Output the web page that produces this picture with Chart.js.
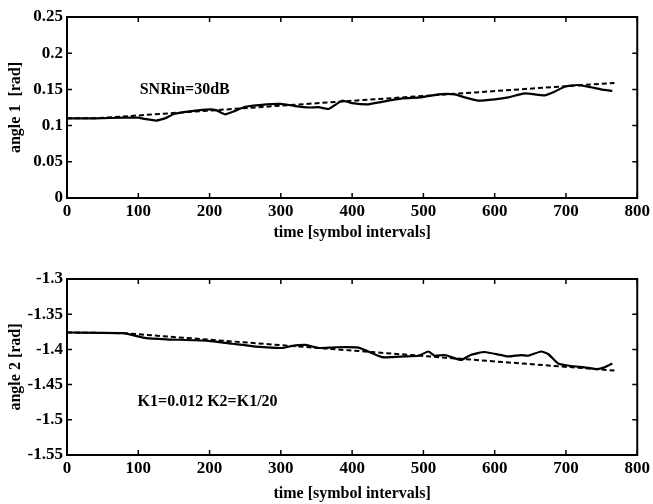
<!DOCTYPE html>
<html>
<head>
    <title>angle tracking</title>
    <script src="https://cdn.jsdelivr.net/npm/chart.js"></script>
    <style>
        body { margin: 0; background: #fff; }
        .plot { position: absolute; left: 0; width: 653px; height: 252px; }
    </style>
</head>
<body>
    <div class="plot" style="top:0"><canvas id="top" width="653" height="252"></canvas></div>
    <div class="plot" style="top:252px"><canvas id="bottom" width="653" height="252"></canvas></div>

    <script>
        // upper plot: angle 1
        const time1 = [0, 40, 80, 100, 110, 125, 140, 150, 175, 200, 210, 222, 235, 250, 280, 300, 320, 340, 353, 367, 386, 400, 423, 437, 470, 497, 521, 544, 558, 577, 600, 619, 642, 670, 684, 698, 716, 735, 749, 765];
        const angle1 = [0.110, 0.110, 0.111, 0.111, 0.109, 0.107, 0.111, 0.116, 0.120, 0.1225, 0.121, 0.1156, 0.120, 0.126, 0.1294, 0.130, 0.127, 0.125, 0.1255, 0.123, 0.1344, 0.131, 0.1294, 0.132, 0.1377, 0.139, 0.1432, 0.1432, 0.139, 0.1344, 0.1363, 0.139, 0.1446, 0.1418, 0.1468, 0.1537, 0.1561, 0.153, 0.150, 0.148];
        const refTime1 = [0, 40, 768];
        const ref1 = [0.110, 0.110, 0.159];
        const yTicks1 = [0, 0.05, 0.1, 0.15, 0.2, 0.25];

        // lower plot: angle 2
        const time2 = [0, 79, 111, 139, 195, 232, 265, 302, 316, 335, 353, 376, 409, 442, 474, 493, 507, 516, 530, 553, 567, 586, 619, 637, 647, 665, 675, 689, 707, 726, 744, 754, 765];
        const angle2 = [-1.376, -1.377, -1.384, -1.3857, -1.3876, -1.392, -1.396, -1.398, -1.395, -1.3937, -1.398, -1.397, -1.3975, -1.411, -1.410, -1.409, -1.403, -1.409, -1.408, -1.415, -1.4075, -1.4037, -1.410, -1.408, -1.409, -1.403, -1.4065, -1.420, -1.4236, -1.4255, -1.428, -1.4255, -1.420];
        const refTime2 = [0, 80, 768];
        const ref2 = [-1.376, -1.377, -1.430];
        const yTicks2 = [-1.55, -1.5, -1.45, -1.4, -1.35, -1.3];

        const xTicks = [0, 100, 200, 300, 400, 500, 600, 700, 800];

        const serif = '"Liberation Serif", "DejaVu Serif", serif';

        const pts = (xs, ys) => xs.map((x, i) => ({ x: x, y: ys[i] }));

        // matlab style box with inward ticks, plus the text note
        const boxPlugin = {
            id: 'box',
            afterDraw(chart, args, opts) {
                const c = chart.ctx, a = chart.chartArea;
                const sx = chart.scales.x, sy = chart.scales.y;
                c.save();
                c.strokeStyle = '#000';
                c.lineWidth = 2;
                c.strokeRect(a.left, a.top, a.right - a.left, a.bottom - a.top);
                c.lineWidth = 1.5;
                c.beginPath();
                xTicks.forEach(v => {
                    const px = sx.getPixelForValue(v);
                    c.moveTo(px, a.bottom); c.lineTo(px, a.bottom - 5);
                    c.moveTo(px, a.top); c.lineTo(px, a.top + 5);
                });
                opts.yTicks.forEach(v => {
                    const py = sy.getPixelForValue(v);
                    c.moveTo(a.left, py); c.lineTo(a.left + 5, py);
                    c.moveTo(a.right, py); c.lineTo(a.right - 5, py);
                });
                c.stroke();
                c.fillStyle = '#000';
                c.font = 'bold 16px ' + serif;
                c.textBaseline = 'middle';
                c.fillText(opts.note, sx.getPixelForValue(opts.noteAt[0]), sy.getPixelForValue(opts.noteAt[1]));
                c.restore();
            }
        };

        function makePlot(id, cfg) {
            const ctx = document.getElementById(id).getContext('2d');
            return new Chart(ctx, {
                type: 'line',
                data: {
                    datasets: [{
                        data: pts(cfg.time, cfg.angle),
                        borderColor: '#000',
                        borderWidth: 2.2,
                        pointRadius: 0,
                        tension: 0.15
                    }, {
                        data: pts(cfg.refTime, cfg.ref),
                        borderColor: '#000',
                        borderWidth: 2,
                        borderDash: [5, 3],
                        pointRadius: 0
                    }]
                },
                options: {
                    responsive: false,
                    animation: false,
                    devicePixelRatio: 1,
                    layout: { padding: { top: cfg.padTop, left: 0, right: 13, bottom: 0 } },
                    plugins: {
                        legend: { display: false },
                        tooltip: { enabled: false },
                        box: { yTicks: cfg.yTicks, note: cfg.note, noteAt: cfg.noteAt }
                    },
                    scales: {
                        x: {
                            type: 'linear',
                            min: 0, max: 800,
                            afterBuildTicks: s => { s.ticks = xTicks.map(v => ({ value: v })); },
                            afterFit: s => { s.height = cfg.xHeight; },
                            grid: { display: false, drawTicks: false },
                            border: { display: false },
                            ticks: {
                                padding: 3,
                                color: '#000',
                                maxRotation: 0,
                                font: { family: serif, size: 17, weight: 'bold' }
                            },
                            title: {
                                display: true,
                                text: 'time [symbol intervals]',
                                color: '#000',
                                padding: { top: 0, bottom: cfg.titlePad },
                                font: { family: serif, size: 16, weight: 'bold' }
                            }
                        },
                        y: {
                            min: cfg.yTicks[0],
                            max: cfg.yTicks[cfg.yTicks.length - 1],
                            afterBuildTicks: s => { s.ticks = cfg.yTicks.map(v => ({ value: v })); },
                            afterFit: s => { s.width = 67; },
                            grid: { display: false, drawTicks: false },
                            border: { display: false },
                            ticks: {
                                padding: 4,
                                color: '#000',
                                font: { family: serif, size: 17, weight: 'bold' },
                                callback: v => String(parseFloat(Number(v).toFixed(2)))
                            },
                            title: {
                                display: true,
                                text: cfg.yTitle,
                                color: '#000',
                                padding: { top: 6, bottom: 0 },
                                font: { family: serif, size: 16, weight: 'bold' }
                            }
                        }
                    }
                },
                plugins: [boxPlugin]
            });
        }

        window.onload = () => {
            makePlot('top', {
                time: time1, angle: angle1, refTime: refTime1, ref: ref1, yTicks: yTicks1,
                yTitle: 'angle 1  [rad]', note: 'SNRin=30dB', noteAt: [102, 0.149],
                padTop: 17, xHeight: 54, titlePad: 10
            });
            makePlot('bottom', {
                time: time2, angle: angle2, refTime: refTime2, ref: ref2, yTicks: yTicks2,
                yTitle: 'angle 2 [rad]', note: 'K1=0.012 K2=K1/20', noteAt: [99, -1.4747],
                padTop: 27, xHeight: 49, titlePad: 1
            });
        };
    </script>
</body>
</html>
